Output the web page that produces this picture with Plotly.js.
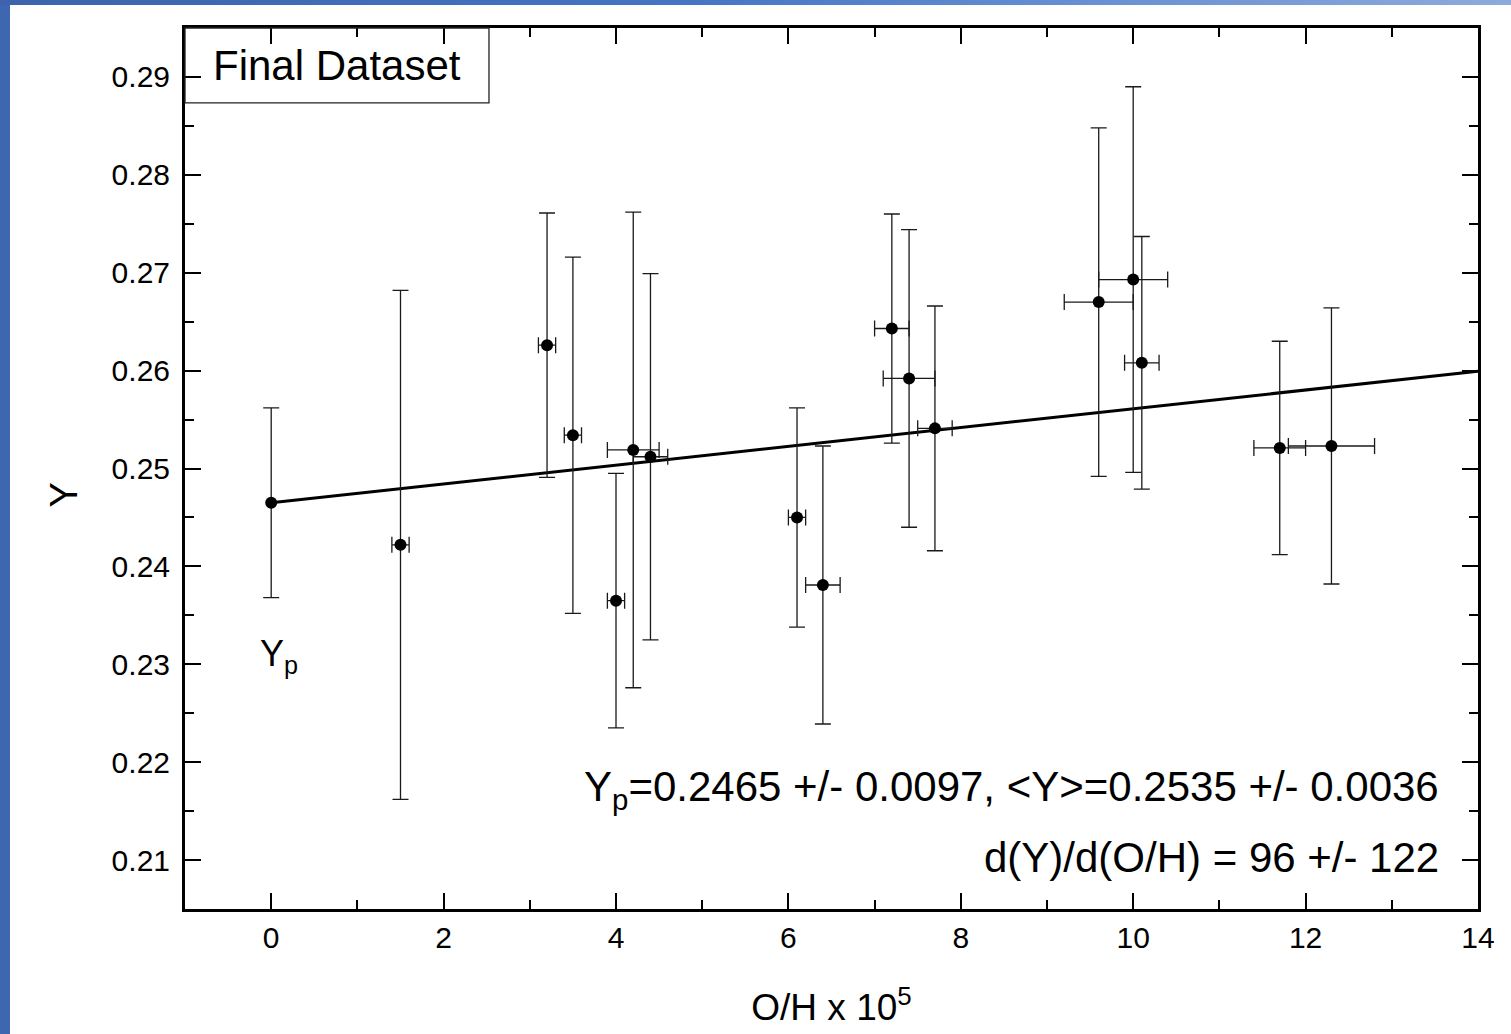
<!DOCTYPE html>
<html>
<head>
<meta charset="utf-8">
<script src="https://cdn.plot.ly/plotly-3.0.1.min.js"></script>
<style>
  html, body { margin: 0; padding: 0; }
  body {
    width: 1511px; height: 1034px; overflow: hidden;
    background:
      linear-gradient(to right, #3d63ad 0%, #4474c3 45%, #5a86cf 62%, #8eaadc 100%) top left / 100% 5px no-repeat,
      linear-gradient(#3f66b0, #3f66b0) top left / 10px 100% no-repeat,
      #ffffff;
  }
  #chart { position: absolute; left: 0; top: 0; width: 1511px; height: 1034px; }
</style>
</head>
<body>
<div id="chart"></div>
<script>
// Data
const ohValues = [1.5, 3.2, 3.5, 4.0, 4.2, 4.4, 6.1, 6.4, 7.2, 7.4, 7.7, 9.6, 10.0, 10.1, 11.7, 12.3];
const yValues  = [0.2422, 0.2626, 0.2534, 0.2365, 0.2519, 0.2512, 0.2450, 0.2381, 0.2643, 0.2592, 0.2541, 0.2670, 0.2693, 0.2608, 0.2521, 0.2523];
const yErrors  = [0.0260, 0.0135, 0.0182, 0.0130, 0.0243, 0.0187, 0.0112, 0.0142, 0.0117, 0.0152, 0.0125, 0.0178, 0.0197, 0.0129, 0.0109, 0.0141];
const ohErrors = [0.1, 0.1, 0.1, 0.1, 0.3, 0.2, 0.1, 0.2, 0.2, 0.3, 0.2, 0.4, 0.4, 0.2, 0.3, 0.5];

// Primordial (intercept) point
const ypX = [0];
const ypY = [0.2465];
const ypErr = [0.0097];

// Regression line end points
const fitX = [0, 14];
const fitY = [0.2465, 0.25994];

const xTickVals = [0, 2, 4, 6, 8, 10, 12, 14];
const yTickVals = [0.21, 0.22, 0.23, 0.24, 0.25, 0.26, 0.27, 0.28, 0.29];

const FONT = 'Arial, "Liberation Sans", Helvetica, sans-serif';
const errColor = '#1a1a1a';

const traces = [
  {
    x: fitX, y: fitY, type: 'scatter', mode: 'lines',
    line: { color: '#000000', width: 3 },
    hoverinfo: 'skip', showlegend: false
  },
  {
    x: ypX, y: ypY, type: 'scatter', mode: 'markers',
    marker: { color: '#000000', size: 12 },
    error_y: { type: 'data', array: ypErr, visible: true, color: errColor, thickness: 1.3, width: 8 },
    showlegend: false
  },
  {
    x: ohValues, y: yValues, type: 'scatter', mode: 'markers',
    marker: { color: '#000000', size: 12 },
    error_y: { type: 'data', array: yErrors, visible: true, color: errColor, thickness: 1.3, width: 8 },
    error_x: { type: 'data', array: ohErrors, visible: true, color: errColor, thickness: 1.3, width: 8 },
    showlegend: false
  }
];

const axisCommon = {
  showgrid: false, zeroline: false,
  showline: true, linecolor: '#000000', linewidth: 3,
  mirror: 'allticks',
  ticks: 'inside', ticklen: 16, tickwidth: 2, tickcolor: '#000000',
  tickfont: { family: FONT, size: 30, color: '#000000' }
};

const layout = {
  width: 1511, height: 1034,
  margin: { l: 185, r: 33, t: 28, b: 125 },
  paper_bgcolor: 'rgba(0,0,0,0)',
  plot_bgcolor: '#ffffff',
  font: { family: FONT, color: '#000000' },
  showlegend: false,
  xaxis: Object.assign({}, axisCommon, {
    range: [-1, 14],
    tickmode: 'array', tickvals: xTickVals, ticktext: xTickVals.map(String),
    minor: { dtick: 1, tick0: 0, ticks: 'inside', ticklen: 9, tickwidth: 2, tickcolor: '#000000' },
    title: { text: 'O/H x 10<sup>5</sup>', font: { family: FONT, size: 37, color: '#000000' }, standoff: 42 }
  }),
  yaxis: Object.assign({}, axisCommon, {
    range: [0.205, 0.295],
    tickmode: 'array', tickvals: yTickVals, ticktext: yTickVals.map(v => v.toFixed(2)),
    minor: { dtick: 0.005, tick0: 0.205, ticks: 'inside', ticklen: 9, tickwidth: 2, tickcolor: '#000000' },
    ticklabelstandoff: 6
  }),
  shapes: [
    { type: 'rect', xref: 'paper', yref: 'paper', x0: 0, x1: 0.2351, y0: 0.9149, y1: 1,
      line: { color: '#222222', width: 1.3 }, fillcolor: 'rgba(0,0,0,0)' }
  ],
  annotations: [
    { xref: 'paper', yref: 'paper', x: 0.1176, y: 0.9574, xanchor: 'center', yanchor: 'middle',
      text: 'Final Dataset', showarrow: false, font: { family: FONT, size: 42, color: '#000000' } },
    { xref: 'paper', yref: 'paper', x: -0.094, y: 0.47, xanchor: 'center', yanchor: 'middle',
      text: 'Y', textangle: -90, showarrow: false, font: { family: FONT, size: 38, color: '#000000' } },
    { xref: 'x', yref: 'y', x: -0.15, y: 0.2334, xanchor: 'left', yanchor: 'top',
      text: 'Y<sub>p</sub>', showarrow: false, font: { family: FONT, size: 36, color: '#000000' } },
    { xref: 'x', yref: 'y', x: 13.57, y: 0.2172, xanchor: 'right', yanchor: 'middle',
      text: 'Y<sub>p</sub>=0.2465 +/- 0.0097, &lt;Y&gt;=0.2535 +/- 0.0036', showarrow: false,
      font: { family: FONT, size: 42, color: '#000000' } },
    { xref: 'x', yref: 'y', x: 13.57, y: 0.2103, xanchor: 'right', yanchor: 'middle',
      text: 'd(Y)/d(O/H) = 96 +/- 122', showarrow: false,
      font: { family: FONT, size: 42, color: '#000000' } }
  ]
};

Plotly.newPlot('chart', traces, layout, { displayModeBar: false, staticPlot: true });
</script>
</body>
</html>
